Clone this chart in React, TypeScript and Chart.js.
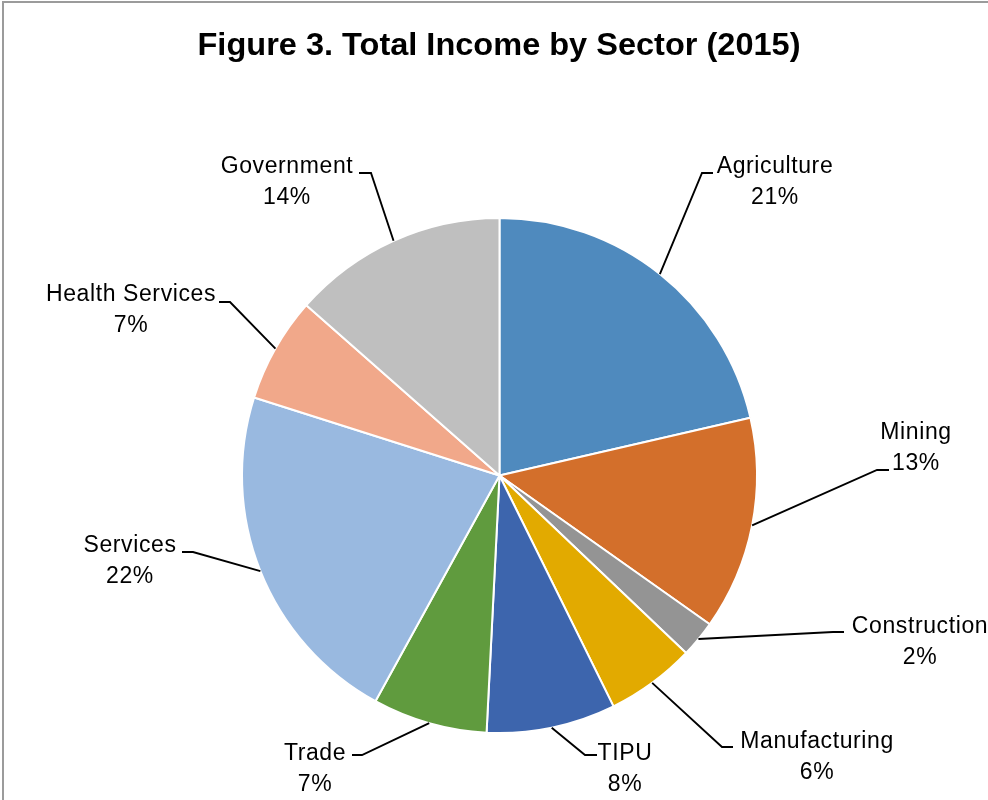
import React, { useEffect, useRef } from "react";
import { Chart, registerables } from "chart.js";

Chart.register(...registerables);

const categories = [
  "Agriculture",
  "Mining",
  "Construction",
  "Manufacturing",
  "TIPU",
  "Trade",
  "Services",
  "Health Services",
  "Government",
];
const values = [21.4, 13.4, 2.3, 5.6, 8.1, 7.2, 21.9, 6.6, 13.5];
const sliceColors = [
  "#4F8ABE",
  "#D36F2B",
  "#949494",
  "#E2AA00",
  "#3D65AD",
  "#609B3E",
  "#99B9E0",
  "#F1A88A",
  "#BFBFBF",
];
const titleText = "Figure 3. Total Income by Sector (2015)";

// label placement (layout only): centre x, baseline of the first line, leader elbow and stub end
const labelLayout = [
  { x: 775, y: 173, elbow: [702, 173], end: [713, 173] },
  { x: 916, y: 439, elbow: [877, 470], end: [889, 470] },
  { x: 920, y: 633, elbow: [833, 632], end: [844, 632] },
  { x: 817, y: 748, elbow: [722, 747], end: [733, 747] },
  { x: 625, y: 760, elbow: [585, 755], end: [597, 755] },
  { x: 315, y: 760, elbow: [362, 755], end: [352, 755] },
  { x: 130, y: 552, elbow: [193, 552], end: [182, 552] },
  { x: 131, y: 301, elbow: [230, 302], end: [219, 302] },
  { x: 287, y: 173, elbow: [371, 173], end: [359, 173] },
];

const labelsPlugin = {
  id: "excelLabels",
  afterDatasetsDraw(chart: any) {
    const ctx = chart.ctx as CanvasRenderingContext2D;
    const meta = chart.getDatasetMeta(0);
    const data = chart.data.datasets[0].data as number[];
    const total = data.reduce((a, b) => a + b, 0);
    ctx.save();
    // frame (top and left edges visible)
    ctx.strokeStyle = "#9B9B9B";
    ctx.lineWidth = 2;
    ctx.beginPath();
    ctx.moveTo(3, 800);
    ctx.lineTo(3, 2);
    ctx.lineTo(988, 2);
    ctx.stroke();

    // title
    ctx.fillStyle = "#000";
    ctx.font = 'bold 31px "Liberation Sans"';
    ctx.textAlign = "center";
    ctx.textBaseline = "alphabetic";
    const tw = ctx.measureText(titleText).width;
    ctx.save();
    ctx.translate(499, 55);
    ctx.scale(603 / tw, 1);
    ctx.fillText(titleText, 0, 0);
    ctx.restore();

    meta.data.forEach((arc: any, i: number) => {
      const p = arc.getProps(["x", "y", "startAngle", "endAngle", "outerRadius"], true);
      const mid = (p.startAngle + p.endAngle) / 2;
      const ax = p.x + Math.cos(mid) * p.outerRadius;
      const ay = p.y + Math.sin(mid) * p.outerRadius;
      const lay = labelLayout[i];
      ctx.strokeStyle = "#000";
      ctx.lineWidth = 1.9;
      ctx.beginPath();
      ctx.moveTo(ax, ay);
      ctx.lineTo(lay.elbow[0], lay.elbow[1]);
      ctx.lineTo(lay.end[0], lay.end[1]);
      ctx.stroke();

      ctx.fillStyle = "#000";
      ctx.font = '23px "Liberation Sans"';
      (ctx as any).letterSpacing = "0.6px";
      ctx.textAlign = "center";
      ctx.fillText(chart.data.labels[i], lay.x, lay.y);
      const pct = Math.round((data[i] / total) * 100) + "%";
      ctx.fillText(pct, lay.x, lay.y + 31);
      (ctx as any).letterSpacing = "0px";
    });
    ctx.restore();
  },
};

export default function App() {
  const ref = useRef<HTMLCanvasElement | null>(null);
  useEffect(() => {
    if (!ref.current) return;
    const chart = new Chart(ref.current, {
      type: "pie",
      data: {
        labels: categories,
        datasets: [
          {
            data: values,
            backgroundColor: sliceColors,
            borderColor: "#FFFFFF",
            borderWidth: 2,
          },
        ],
      },
      options: {
        responsive: false,
        animation: false,
        layout: { padding: { left: 11, right: 0, top: 217, bottom: 66 } },
        plugins: {
          legend: { display: false },
          title: { display: false },
          tooltip: { enabled: false },
        },
      },
      plugins: [labelsPlugin],
    });
    return () => chart.destroy();
  }, []);
  return (
    <div style={{ position: "absolute", left: 0, top: 0, width: 988, height: 800, background: "#fff" }}>
      <canvas ref={ref} width={988} height={800} />
    </div>
  );
}
